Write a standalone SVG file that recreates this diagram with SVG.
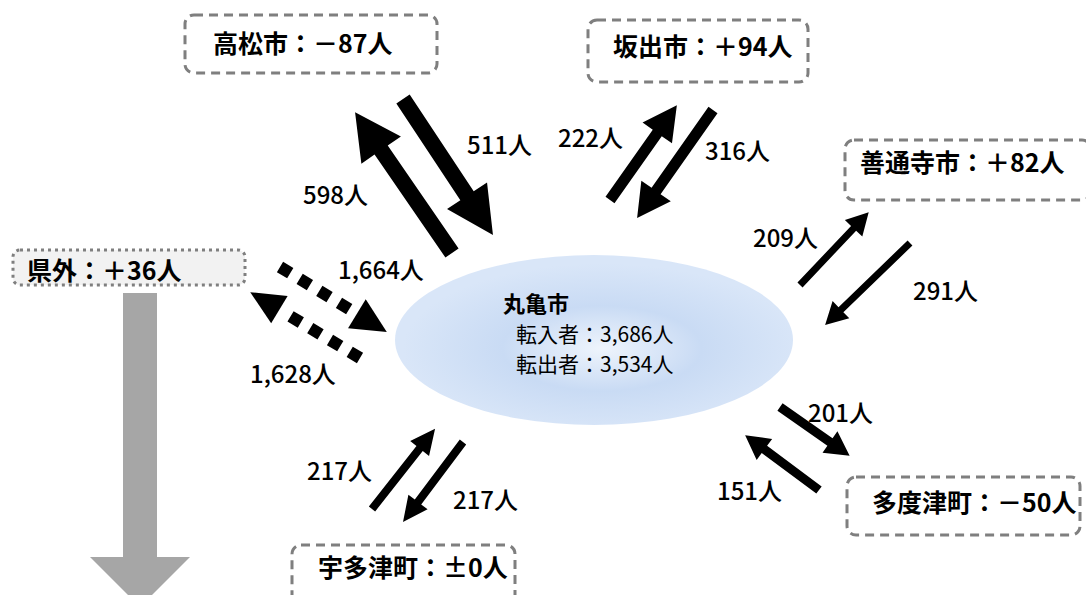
<svg xmlns="http://www.w3.org/2000/svg" width="1086" height="595" viewBox="0 0 1086 595">
<defs>
<radialGradient id="eg" cx="52%" cy="55%" r="50%">
<stop offset="0%" stop-color="#eef4fc"/>
<stop offset="50%" stop-color="#c9dbf4"/>
<stop offset="100%" stop-color="#d9e6f8"/>
</radialGradient>
<style>
.box{fill:#ffffff;stroke:#7f7f7f;stroke-width:3;stroke-dasharray:9 6}
.boxd{fill:#f2f2f2;stroke:#7f7f7f;stroke-width:3;stroke-dasharray:3 4}
.bt{font-family:"Noto Sans CJK JP","Noto Sans",sans-serif;font-weight:bold;font-size:25px;fill:#000}
.lb{font-family:"Noto Sans CJK JP","Noto Sans",sans-serif;font-weight:500;font-size:24px;fill:#000}
.ct{font-family:"Noto Sans CJK JP","Noto Sans",sans-serif;font-size:21px;fill:#000}
.ctb{font-family:"Noto Sans CJK JP","Noto Sans",sans-serif;font-weight:bold;font-size:22px;fill:#000}
.ar{fill:#000}
.dot{stroke:#000;stroke-width:12;stroke-dasharray:12 11;fill:none}
</style>
</defs>
<rect width="1086" height="595" fill="#ffffff"/>

<g id="gray-arrow">
<path d="M123,293 L157,293 L157,557 L190,557 L140,607 L90,557 L123,557 Z" fill="#a6a6a6"/>
</g>

<g id="marugame">
<ellipse cx="594" cy="340" rx="199" ry="85" fill="url(#eg)"/>
<text class="ctb" x="503" y="312">丸亀市</text>
<text class="ct" x="516" y="342">転入者：3,686人</text>
<text class="ct" x="516" y="372">転出者：3,534人</text>
</g>

<g id="takamatsu">
<rect class="box" x="185" y="15" width="252" height="58" rx="9"/>
<text class="bt" x="213" y="53">高松市：－87人</text>
</g>
<g id="sakaide">
<rect class="box" x="588" y="20" width="220" height="62" rx="9"/>
<text class="bt" x="613" y="56">坂出市：＋94人</text>
</g>
<g id="zentsuji">
<rect class="box" x="845" y="140" width="246" height="60" rx="9"/>
<text class="bt" x="860" y="172">善通寺市：＋82人</text>
</g>
<g id="kengai">
<rect class="boxd" x="13" y="250" width="232" height="35" rx="7"/>
<text class="bt" x="27" y="280">県外：＋36人</text>
</g>
<g id="utazu">
<rect class="box" x="292" y="545" width="223" height="62" rx="9"/>
<text class="bt" x="318" y="577">宇多津町：±0人</text>
</g>
<g id="tadotsu">
<rect class="box" x="847" y="477" width="233" height="58" rx="9"/>
<text class="bt" x="872" y="512">多度津町：－50人</text>
</g>

<g id="connectors">
<path class="ar" transform="translate(452,253) rotate(-124.53)" d="M0,-8 L125,-8 L125,-24 L171,0 L125,24 L125,8 L0,8 Z"/>
<path class="ar" transform="translate(403,99) rotate(56.5)" d="M0,-8 L116,-8 L116,-24 L163,0 L116,24 L116,8 L0,8 Z"/>
<path class="ar" transform="translate(610,200) rotate(-54.8)" d="M0,-5.5 L82,-5.5 L82,-18 L116,0 L82,18 L82,5.5 L0,5.5 Z"/>
<path class="ar" transform="translate(713,110) rotate(125.1)" d="M0,-5.5 L99,-5.5 L99,-18 L132,0 L99,18 L99,5.5 L0,5.5 Z"/>
<path class="ar" transform="translate(800,285) rotate(-46.6)" d="M0,-3.5 L78,-3.5 L78,-12 L100,0 L78,12 L78,3.5 L0,3.5 Z"/>
<path class="ar" transform="translate(910,243) rotate(136)" d="M0,-3.5 L96,-3.5 L96,-12 L118,0 L96,12 L96,3.5 L0,3.5 Z"/>
<g transform="translate(280,267) rotate(31.3)">
<line class="dot" x1="0" y1="0" x2="88" y2="0"/>
<path class="ar" d="M90,-17 L125,0 L90,17 Z"/>
</g>
<g transform="translate(360,358) rotate(-149.04)">
<line class="dot" x1="0" y1="0" x2="92" y2="0"/>
<path class="ar" d="M94,-16 L128,0 L94,16 Z"/>
</g>
<path class="ar" transform="translate(372,509) rotate(-51.8)" d="M0,-4 L77,-4 L77,-12 L102,0 L77,12 L77,4 L0,4 Z"/>
<path class="ar" transform="translate(463,442) rotate(126.87)" d="M0,-4 L75,-4 L75,-12 L100,0 L75,12 L75,4 L0,4 Z"/>
<path class="ar" transform="translate(780,407) rotate(35)" d="M0,-4.5 L61,-4.5 L61,-13 L85,0 L61,13 L61,4.5 L0,4.5 Z"/>
<path class="ar" transform="translate(819,490) rotate(-143.4)" d="M0,-4.5 L68,-4.5 L68,-13 L92,0 L68,13 L68,4.5 L0,4.5 Z"/>
</g>

<g id="labels">
<text class="lb" x="303" y="204">598人</text>
<text class="lb" x="467" y="154">511人</text>
<text class="lb" x="558" y="147">222人</text>
<text class="lb" x="705" y="160">316人</text>
<text class="lb" x="753" y="247">209人</text>
<text class="lb" x="913" y="300">291人</text>
<text class="lb" x="338" y="279">1,664人</text>
<text class="lb" x="250" y="383">1,628人</text>
<text class="lb" x="307" y="480">217人</text>
<text class="lb" x="453" y="509">217人</text>
<text class="lb" x="808" y="422">201人</text>
<text class="lb" x="717" y="500">151人</text>
</g>
</svg>
